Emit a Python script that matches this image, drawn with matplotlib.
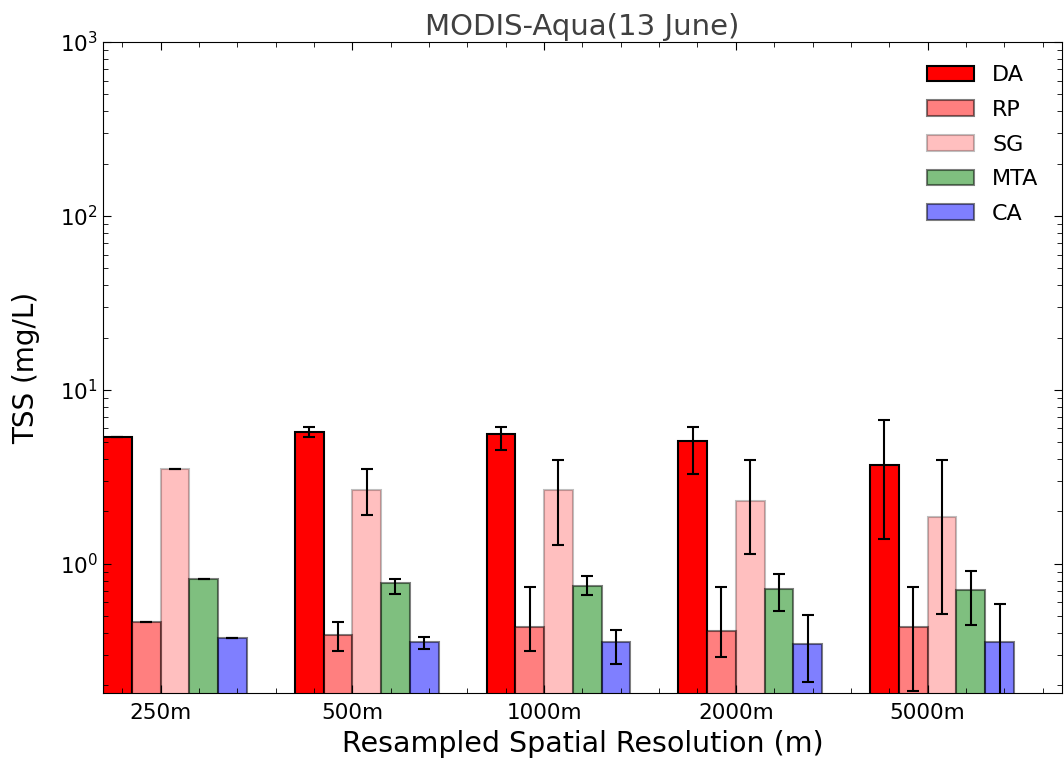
import numpy as np
import matplotlib
matplotlib.use('Agg')
import matplotlib.pyplot as plt

# TSS per method at each resampled resolution
resolutions = ['250m', '500m', '1000m', '2000m', '5000m']
methods = ['DA', 'RP', 'SG', 'MTA', 'CA']

da = [5.39, 5.76, 5.59, 5.11, 3.72]
rp = [0.464, 0.389, 0.433, 0.410, 0.433]
sg = [3.52, 2.66, 2.66, 2.31, 1.87]
mta = [0.817, 0.774, 0.747, 0.721, 0.709]
ca = [0.376, 0.356, 0.356, 0.344, 0.356]

# lower / upper error lengths
da_lo = [0, 0.37, 1.07, 1.83, 2.33]
da_hi = [0, 0.37, 0.54, 1.02, 2.98]
rp_lo = [0, 0.074, 0.118, 0.117, 0.248]
rp_hi = [0, 0.075, 0.301, 0.324, 0.301]
sg_lo = [0, 0.755, 1.37, 1.17, 1.354]
sg_hi = [0, 0.87, 1.28, 1.63, 2.07]
mta_lo = [0, 0.102, 0.086, 0.186, 0.261]
mta_hi = [0, 0.043, 0.099, 0.155, 0.199]
ca_lo = [0, 0.030, 0.092, 0.134, 0.30]
ca_hi = [0, 0.026, 0.061, 0.163, 0.228]

plt.rcParams['xtick.direction'] = 'in'
plt.rcParams['ytick.direction'] = 'in'
plt.rcParams['xtick.top'] = True
plt.rcParams['ytick.right'] = True
plt.rcParams['xtick.major.size'] = 6
plt.rcParams['ytick.major.size'] = 6
plt.rcParams['xtick.minor.size'] = 3.5
plt.rcParams['ytick.minor.size'] = 3.5

fig = plt.figure(figsize=(10.64, 7.66), dpi=100)
ax = fig.add_axes([0.0968, 0.0953, 0.9012, 0.8499])

ind = np.arange(len(resolutions))
width = 0.15

series = [
    (da, da_lo, da_hi, 'red', 1.0),
    (rp, rp_lo, rp_hi, 'red', 0.5),
    (sg, sg_lo, sg_hi, 'red', 0.25),
    (mta, mta_lo, mta_hi, 'green', 0.5),
    (ca, ca_lo, ca_hi, 'blue', 0.5),
]

err_kw = dict(ecolor='black', elinewidth=1.5, capsize=4, capthick=1.5)
for k, (vals, lo, hi, col, a) in enumerate(series):
    ax.bar(ind + k * width, vals, width, align='edge', color=col, alpha=a,
           edgecolor='black', linewidth=1.5, label=methods[k])
    ax.errorbar(ind + k * width + width / 2, vals, yerr=[lo, hi], fmt='none',
                **err_kw)

ax.set_yscale('log')
ax.set_ylim(0.181, 1000)
ax.set_xlim(0, 5)
ax.set_xticks(ind + 2 * width)
ax.set_xticklabels(resolutions)
ax.minorticks_on()
ax.tick_params(labelsize=15.5)
ax.tick_params(axis='x', pad=7)

ax.set_title('MODIS-Aqua(13 June)', fontsize=21, color='#404040', pad=5)
ax.set_ylabel('TSS (mg/L)', fontsize=20, labelpad=14)
ax.set_xlabel('Resampled Spatial Resolution (m)', fontsize=20.5, labelpad=5)

ax.legend(loc='upper right', frameon=False, fontsize=16, handlelength=2.15,
          labelspacing=0.66, borderaxespad=0.65, handletextpad=0.8)

fig.savefig('out.png', dpi=100)
